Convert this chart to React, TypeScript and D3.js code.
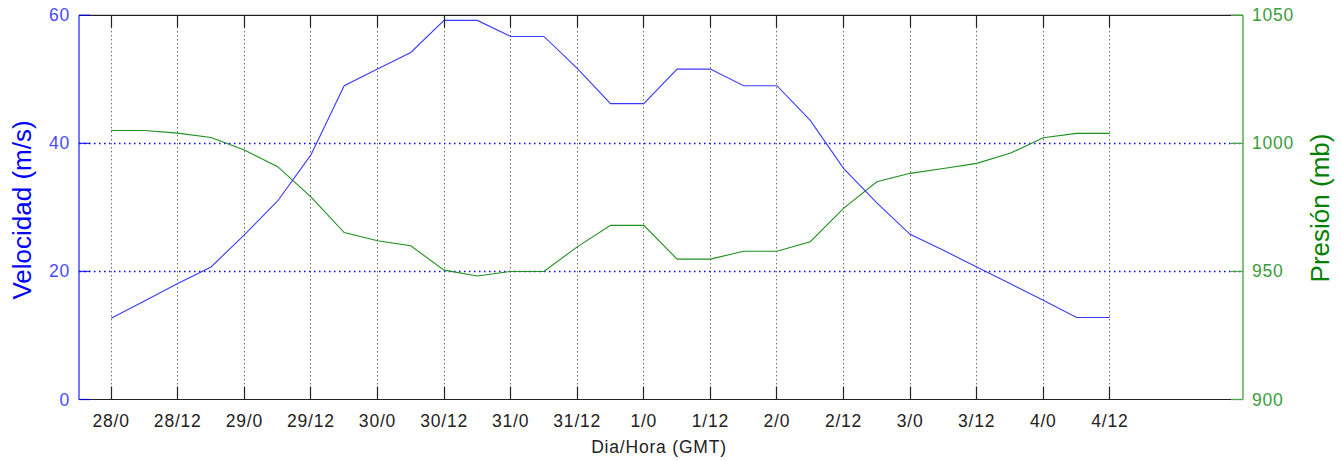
import React from "react";
import * as d3 from "d3";

const hours = [0, 6, 12, 18, 24, 30, 36, 42, 48, 54, 60, 66, 72, 78, 84, 90, 96, 102, 108, 114, 120, 126, 132, 138, 144, 150, 156, 162, 168, 174, 180];
const velocity = [12.7, 15.4, 18.1, 20.7, 25.7, 31.0, 38.2, 49.0, 51.6, 54.2, 59.2, 59.2, 56.7, 56.7, 51.7, 46.2, 46.2, 51.6, 51.6, 49.0, 49.0, 43.6, 36.1, 30.7, 25.8, 23.3, 20.7, 18.1, 15.5, 12.8, 12.8];
const pressure = [1005, 1005, 1004, 1002.3, 997.4, 990.9, 979.1, 965.2, 962, 960, 950.5, 948.2, 950, 950, 959.6, 968, 968, 954.8, 954.8, 957.9, 957.9, 961.6, 974.6, 985, 988.3, 990.2, 992.2, 996.1, 1002.2, 1003.9, 1003.9];
const tickHours = [0, 12, 24, 36, 48, 60, 72, 84, 96, 108, 120, 132, 144, 156, 168, 180];
const tickLabels = ["28/0", "28/12", "29/0", "29/12", "30/0", "30/12", "31/0", "31/12", "1/0", "1/12", "2/0", "2/12", "3/0", "3/12", "4/0", "4/12"];
const leftTicks = [0, 20, 40, 60];
const rightTicks = [900, 950, 1000, 1050];

const W = 1341;
const H = 461;
const L = 79;
const R = 1243;
const T = 15.3;
const B = 399.5;

const FONT = "'Liberation Sans', Arial, Helvetica, sans-serif";
const BLUE = "#0000ff";
const BLUE_LINE = "#3a3aff";
const BLUE_TXT = "#4a4aff";
const GREEN_LINE = "#1f8f1f";
const GREEN_AX = "#4aa54a";
const GREEN_TXT = "#3c9c3c";
const GREEN_TITLE = "#008000";

const snap = (v: number) => Math.round(v - 0.5) + 0.5;

export default function App() {
  const x = d3.scaleLinear().domain([-5.8, 204]).range([L, R]);
  const yL = d3.scaleLinear().domain([0, 60]).range([B, T]);
  const yR = d3.scaleLinear().domain([900, 1050]).range([B, T]);

  const vLine = d3
    .line<number>()
    .x((_, i) => x(hours[i]))
    .y((d) => yL(d))(velocity) as string;
  const pLine = d3
    .line<number>()
    .x((_, i) => x(hours[i]))
    .y((d) => yR(d))(pressure) as string;

  return (
    <svg
      width={W}
      height={H}
      style={{ position: "absolute", left: 0, top: 0, display: "block", background: "#fff" }}
      fontFamily={FONT}
    >
      <rect x={0} y={0} width={W} height={H} fill="#fff" />
      {/* vertical dotted grid */}
      {tickHours.map((h) => (
        <line
          key={"vg" + h}
          x1={snap(x(h))}
          x2={snap(x(h))}
          y1={T}
          y2={B}
          stroke="#000"
          strokeWidth={1}
          strokeDasharray="1,3"
          opacity={0.85}
        />
      ))}
      {/* horizontal dotted grid (left axis) */}
      {leftTicks
        .filter((t) => t !== 0 && t !== 60)
        .map((t) => (
          <line
            key={"hg" + t}
            x1={L}
            x2={R}
            y1={snap(yL(t))}
            y2={snap(yL(t))}
            stroke={BLUE}
            strokeWidth={1.3}
            strokeDasharray="1.5,3.5"
          />
        ))}
      {/* data lines */}
      <path d={pLine} fill="none" stroke={GREEN_LINE} strokeWidth={1.1} />
      <path d={vLine} fill="none" stroke={BLUE_LINE} strokeWidth={1.1} />
      {/* frame */}
      <line x1={L} x2={R} y1={T} y2={T} stroke="#222" strokeWidth={1.2} />
      <line x1={L} x2={R} y1={B} y2={B} stroke="#222" strokeWidth={1.2} />
      {/* x ticks */}
      {tickHours.map((h) => (
        <g key={"xt" + h}>
          <line x1={snap(x(h))} x2={snap(x(h))} y1={B} y2={B - 13} stroke="#222" strokeWidth={1.2} />
          <line x1={snap(x(h))} x2={snap(x(h))} y1={T} y2={T + 12} stroke="#222" strokeWidth={1.2} />
        </g>
      ))}
      {tickHours.map((h, i) => (
        <text
          key={"xl" + h}
          x={x(h)}
          y={427}
          textAnchor="middle"
          fontSize={17.5}
          letterSpacing={0.8}
          fill="#222"
        >
          {tickLabels[i]}
        </text>
      ))}
      <text x={659} y={453} textAnchor="middle" fontSize={17.5} letterSpacing={0.8} fill="#222">
        Dia/Hora (GMT)
      </text>
      {/* left axis */}
      <line x1={L} x2={L} y1={T} y2={B} stroke={BLUE} strokeWidth={1.4} opacity={0.75} />
      {leftTicks.map((t) => (
        <g key={"lt" + t}>
          <line x1={L} x2={L + 11} y1={yL(t)} y2={yL(t)} stroke={BLUE} strokeWidth={1.3} opacity={0.8} />
          <text x={70} y={yL(t) + 6} textAnchor="end" fontSize={17.5} letterSpacing={0.8} fill={BLUE_TXT}>
            {t}
          </text>
        </g>
      ))}
      <text
        transform={`translate(31,210) rotate(-90)`}
        textAnchor="middle"
        fontSize={26}
        fill={BLUE}
      >
        Velocidad (m/s)
      </text>
      {/* right axis */}
      <line x1={R} x2={R} y1={T} y2={B} stroke={GREEN_AX} strokeWidth={1.4} />
      {rightTicks.map((t) => (
        <g key={"rt" + t}>
          <line x1={R - 12} x2={R} y1={yR(t)} y2={yR(t)} stroke={GREEN_AX} strokeWidth={1.3} />
          <text x={1252} y={yR(t) + 6} textAnchor="start" fontSize={17.5} letterSpacing={0.8} fill={GREEN_TXT}>
            {t}
          </text>
        </g>
      ))}
      <text
        transform={`translate(1329,208) rotate(-90)`}
        textAnchor="middle"
        fontSize={26}
        fill={GREEN_TITLE}
      >
        Presión (mb)
      </text>
    </svg>
  );
}
